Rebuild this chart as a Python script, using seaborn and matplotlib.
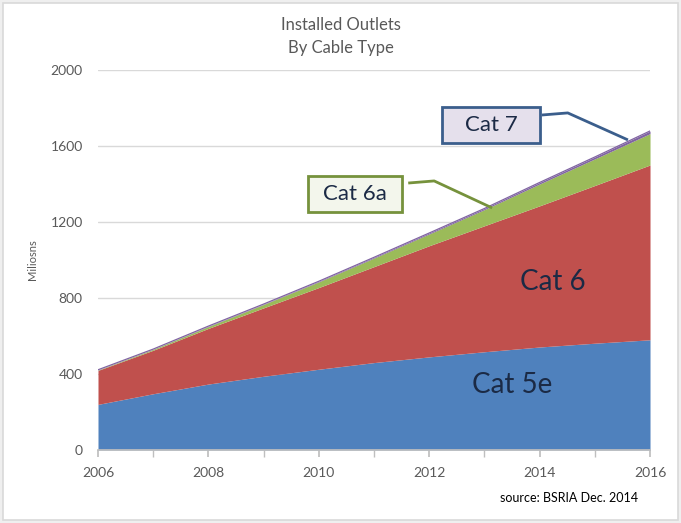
import matplotlib.pyplot as plt
import matplotlib.patches as mpatches
from matplotlib.ticker import MultipleLocator
import seaborn as sns
import pandas as pd

# values (millions of outlets)
years = list(range(2006, 2017))
cat5e = [240, 296, 347, 388, 425, 460, 490, 517, 542, 562, 580]
cat6 = [179, 229, 293, 360, 430, 505, 585, 663, 743, 830, 920]
cat6a = [2, 5, 10, 18, 30, 45, 62, 85, 115, 140, 165]
cat7 = [1, 1, 2, 2, 3, 4, 5, 6, 8, 10, 14]
series_names = ["Cat 5e", "Cat 6", "Cat 6a", "Cat 7"]

df = pd.DataFrame({"year": years, "Cat 5e": cat5e, "Cat 6": cat6,
                   "Cat 6a": cat6a, "Cat 7": cat7}).set_index("year")

sns.set_theme(style="white")
plt.rcParams['font.family'] = ['Lato', 'DejaVu Sans']

colors = sns.color_palette(["#4F81BD", "#C0504D", "#9BBB59", "#8064A2"])
grey = "#595959"

fig = plt.figure(figsize=(6.81, 5.23), dpi=100, facecolor="#EFEFEF")
fig.patches.append(mpatches.Rectangle((0.005, 0.006), 0.99, 0.988, transform=fig.transFigure,
                                      facecolor="white", edgecolor="#D9D9D9", lw=1.2, zorder=-1))
ax = fig.add_axes([0.1439, 0.1396, 0.8106, 0.7266])
ax.set_facecolor("none")

ax.stackplot(df.index, [df[c] for c in series_names], colors=colors, linewidth=0)
ax.plot(df.index, df.sum(axis=1), color=colors[3], lw=0.9)

ax.set_xlim(2006, 2016)
ax.set_ylim(0, 2000)
ax.set_yticks(range(0, 2001, 400))
ax.xaxis.set_major_locator(MultipleLocator(2))
ax.xaxis.set_minor_locator(MultipleLocator(1))
ax.grid(axis="y", color="#D9D9D9", lw=1)
ax.set_axisbelow(True)
for s in ["top", "right", "left"]:
    ax.spines[s].set_visible(False)
ax.spines["bottom"].set_color("#BFBFBF")
ax.tick_params(axis="x", which="both", direction="out", length=5, color="#BFBFBF",
               bottom=True, labelsize=10, labelcolor=grey, pad=7)
ax.tick_params(axis="y", length=0, labelsize=10, labelcolor=grey, pad=11)

ax.set_ylabel("Miliosns", fontsize=8, color=grey, labelpad=9)
fig.text(0.5, 0.931, "Installed Outlets\nBy Cable Type", ha="center", va="center",
         fontsize=12, color=grey, linespacing=1.55)
fig.text(0.937, 0.047, "source: BSRIA Dec. 2014", ha="right", va="center",
         fontsize=9, color="black")

navy = "#1B2A45"
ax.text(2014.24, 885, "Cat 6", fontsize=20, color=navy, ha="center", va="center")
ax.text(2013.5, 343, "Cat 5e", fontsize=20, color=navy, ha="center", va="center")

# callout boxes with leader lines
ax.add_patch(mpatches.Rectangle((2009.80, 1253), 1.71, 189, fc="#F3F6EC", ec="#76923C",
                                lw=2, zorder=5))
ax.text(2010.66, 1345, "Cat 6a", fontsize=16, color=navy, ha="center", va="center", zorder=6)
ax.plot([2011.62, 2012.09, 2013.14], [1405, 1416, 1274], color="#76923C", lw=2,
        solid_capstyle="butt")
ax.add_patch(mpatches.Rectangle((2012.23, 1616), 1.78, 189, fc="#E5E0EC", ec="#3B5E8C",
                                lw=2, zorder=5))
ax.text(2013.12, 1709, "Cat 7", fontsize=16, color=navy, ha="center", va="center", zorder=6)
ax.plot([2014.04, 2014.51, 2015.60], [1763, 1774, 1632], color="#3B5E8C", lw=2,
        solid_capstyle="butt", clip_on=False)

fig.savefig("out.png", dpi=100, facecolor=fig.get_facecolor())
